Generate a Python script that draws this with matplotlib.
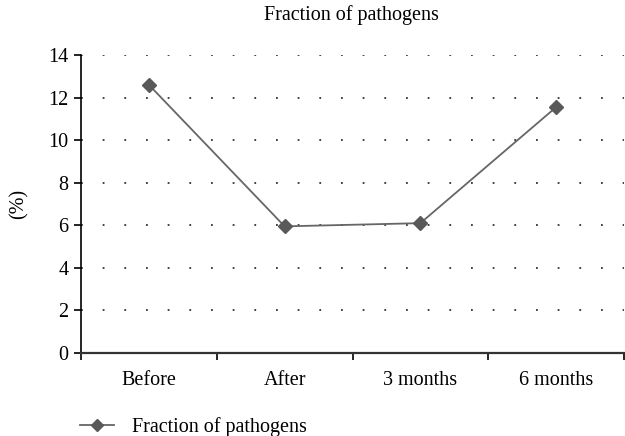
import matplotlib
matplotlib.use("Agg")
import matplotlib.pyplot as plt
import numpy as np

categories = ["Before", "After", "3 months", "6 months"]
values = [12.6, 5.95, 6.1, 11.55]
yticks = [0, 2, 4, 6, 8, 10, 12, 14]
title = "Fraction of pathogens"
series_name = "Fraction of pathogens"
ylabel = "(%)"

plt.rcParams['font.family'] = ['Liberation Serif', 'DejaVu Serif']
FS = 14.5

fig = plt.figure(figsize=(6.25, 4.36), dpi=100)
ax = fig.add_axes([81/625, 1-353/436, (624-81)/625, (353-55)/436])

x = np.arange(len(categories))
line, = ax.plot(x, values, color="#666666", lw=1.3, marker="D", markersize=7,
                markerfacecolor="#595959", markeredgecolor="#595959", zorder=3,
                label=series_name)

ax.set_xlim(-0.5, len(categories) - 0.5)
ax.set_ylim(0, 14)
ax.set_yticks(yticks)
ax.set_yticklabels([str(v) for v in yticks], fontsize=FS)

ax.set_xticks(x)
ax.set_xticklabels(categories, fontsize=FS)
ax.tick_params(axis='x', which='major', length=0, pad=13)
ax.set_xticks(np.arange(len(categories) + 1) - 0.5, minor=True)
ax.tick_params(axis='x', which='minor', length=5, width=1.2, direction='out', color='black')
ax.tick_params(axis='y', length=5, width=1.2, direction='out', pad=4)

for v in yticks[1:]:
    ax.axhline(v, color="#333333", lw=1.3, linestyle=(0, (1, 11)), zorder=1)

for s in ['top', 'right']:
    ax.spines[s].set_visible(False)
ax.spines['left'].set_linewidth(1.2)
ax.spines['bottom'].set_linewidth(1.6)
ax.spines['bottom'].set_color('#333333')

ax.set_ylabel(ylabel, fontsize=FS)
ax.yaxis.set_label_coords((29 - 81) / (624 - 81), 0.5)
fig.text(351/625, 1-15/436, title, ha='center', va='center', fontsize=FS)

fig.legend(handles=[line], loc='center left', bbox_to_anchor=(72/625, 1-427/436),
           frameon=False, fontsize=FS, handlelength=1.7, handletextpad=0.9,
           markerscale=0.85, borderaxespad=0)

fig.savefig("out.png", dpi=100)
